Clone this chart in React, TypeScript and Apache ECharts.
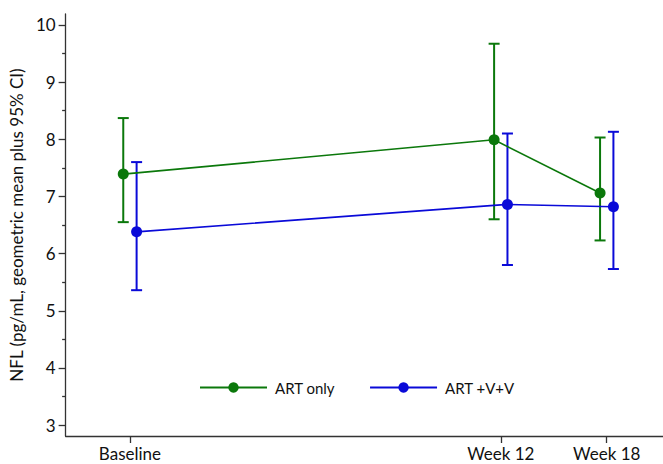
import React, { useEffect, useRef } from "react";
import * as echarts from "echarts";

const categories = ["Baseline", "Week 12", "Week 18"];
const xPositions = [0, 3.5, 4.5];
const seriesNames = ["ART only", "ART +V+V"];
const artOnlyMean = [7.39, 7.99, 7.06];
const artOnlyLow = [6.55, 6.6, 6.23];
const artOnlyHigh = [8.37, 9.67, 8.03];
const vvMean = [6.38, 6.86, 6.82];
const vvLow = [5.36, 5.8, 5.73];
const vvHigh = [7.6, 8.1, 8.13];
const yTicks = [3, 4, 5, 6, 7, 8, 9, 10];
const yMinorTicks = [3.5, 4.5, 5.5, 6.5, 7.5, 8.5, 9.5];

const GREEN = "#0b780b";
const BLUE = "#0a0ad8";
const FONT = "Lato";
const OFFSET = 0.063;
const AXIS_COLOR = "#333";

export default function App() {
  const ref = useRef<HTMLDivElement>(null);
  useEffect(() => {
    if (!ref.current) return;
    const chart = echarts.init(ref.current, null, { renderer: "svg" });

    const groups = [
      { name: seriesNames[0], mean: artOnlyMean, low: artOnlyLow, high: artOnlyHigh, color: GREEN, off: -OFFSET },
      { name: seriesNames[1], mean: vvMean, low: vvLow, high: vvHigh, color: BLUE, off: OFFSET },
    ];

    const series: any[] = [];
    groups.forEach((g) => {
      series.push({
        name: g.name + " CI",
        type: "custom",
        xAxisIndex: 0,
        yAxisIndex: 0,
        data: xPositions.map((x, i) => [x + g.off, g.low[i], g.high[i]]),
        renderItem: (params: any, api: any) => {
          const x = api.value(0);
          const lo = api.coord([x, api.value(1)]);
          const hi = api.coord([x, api.value(2)]);
          const cw = 5.5;
          const st = { stroke: g.color, lineWidth: 2 };
          return {
            type: "group",
            children: [
              { type: "line", shape: { x1: lo[0], y1: lo[1], x2: hi[0], y2: hi[1] }, style: st },
              { type: "line", shape: { x1: lo[0] - cw, y1: lo[1], x2: lo[0] + cw, y2: lo[1] }, style: st },
              { type: "line", shape: { x1: hi[0] - cw, y1: hi[1], x2: hi[0] + cw, y2: hi[1] }, style: st },
            ],
          };
        },
        z: 2,
      });
      series.push({
        name: g.name,
        type: "line",
        xAxisIndex: 0,
        yAxisIndex: 0,
        data: xPositions.map((x, i) => [x + g.off, g.mean[i]]),
        symbol: "circle",
        symbolSize: 11,
        lineStyle: { color: g.color, width: 1.6 },
        itemStyle: { color: g.color },
        z: 3,
      });
    });

    const hiddenY = (ticks: number[], len: number) => ({
      type: "value",
      min: 2.81,
      max: 10.19,
      position: "left",
      offset: 0,
      splitLine: { show: false },
      axisLine: { show: false, onZero: false },
      axisTick: { show: true, customValues: ticks, length: len, lineStyle: { color: AXIS_COLOR, width: 1.3 } },
      axisLabel: { show: false },
    });

    chart.setOption({
      animation: false,
      textStyle: { fontFamily: FONT },
      grid: { left: 65, right: 0, top: 14, bottom: 28, containLabel: false },
      legend: {
        data: seriesNames,
        left: 194,
        top: 375,
        itemWidth: 67,
        itemHeight: 13,
        itemGap: 34,
        textStyle: { fontFamily: FONT, fontSize: 15, color: "#111", padding: [0, 0, 0, 3] },
      },
      xAxis: {
        type: "value",
        min: -0.607,
        max: 5.031,
        splitLine: { show: false },
        axisLine: { show: true, onZero: false, lineStyle: { color: AXIS_COLOR, width: 1.3 } },
        axisTick: { show: true, customValues: xPositions, length: 7, lineStyle: { color: AXIS_COLOR, width: 1.3 } },
        axisLabel: {
          customValues: xPositions,
          formatter: (v: number) => {
            const i = xPositions.findIndex((p) => Math.abs(p - v) < 1e-6);
            return i >= 0 ? categories[i] : "";
          },
          fontFamily: FONT,
          fontSize: 17,
          lineHeight: 17,
          color: "#111",
          margin: 9,
        },
      },
      yAxis: [
        {
          type: "value",
          min: 2.81,
          max: 10.19,
          name: "NFL (pg/mL, geometric mean plus 95% CI)",
          nameLocation: "middle",
          nameGap: 38,
          nameTextStyle: { fontFamily: FONT, fontSize: 17, color: "#111" },
          splitLine: { show: false },
          axisLine: { show: true, onZero: false, lineStyle: { color: AXIS_COLOR, width: 1.3 } },
          axisTick: { show: false },
          axisLabel: { customValues: yTicks, fontFamily: FONT, fontSize: 17, color: "#111", margin: 10 },
        },
        hiddenY(yTicks, 7),
        hiddenY(yMinorTicks, 3.5),
      ],
      series,
    });
    return () => chart.dispose();
  }, []);
  return <div ref={ref} style={{ width: 663, height: 464, position: "absolute", left: 0, top: 0 }} />;
}
